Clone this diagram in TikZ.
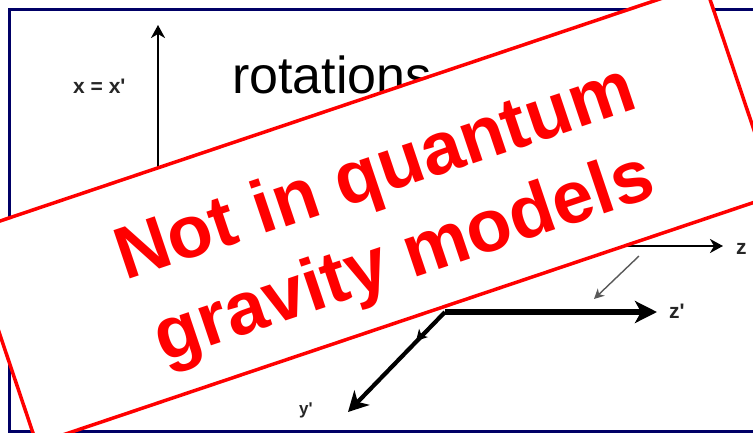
\documentclass[tikz,border=0pt]{standalone}
\usepackage{fontspec}
\setmainfont{Liberation Sans}
\usetikzlibrary{arrows.meta}
\definecolor{framenavy}{RGB}{0,0,102}
\definecolor{stampred}{RGB}{255,0,0}
\begin{document}
\begin{tikzpicture}[x=1pt,y=1pt,
  axisline/.style={line width=2.6pt,-{Stealth[length=13pt,width=14pt,inset=4pt]}},
  bigaxis/.style={line width=5.5pt,-{Stealth[length=22pt,width=22pt,inset=6pt]}},
  midaxis/.style={line width=4.2pt,-{Stealth[length=20pt,width=21pt,inset=6pt]}},
  lbl/.style={inner sep=0pt,text=black!85,font=\fontsize{21}{24}\selectfont\bfseries},
  stamptext/.style={inner sep=0pt,transform shape,text=stampred,font=\fontsize{74}{89}\selectfont\bfseries}]
\useasboundingbox (0,0) rectangle (753,-432);
\clip (0,0) rectangle (753,-432);
\fill[white] (0,0) rectangle (753,-432);
% frame
\draw[framenavy,line width=3pt] (9,-9) rectangle (780,-431);
% title
\node[anchor=base west,inner sep=0pt,font=\fontsize{52}{60}\selectfont] (title) at (232,-93) {rotations};
% axes
\coordinate (O) at (158,-246);
\coordinate (xtip) at (158,-25);
\coordinate (ztip) at (723,-246);
\coordinate (Op) at (445,-312);
\coordinate (zptip) at (657,-312);
\coordinate (yptip) at (348,-412);
\coordinate (barbstart) at (430,-326);
\coordinate (barbtip) at (416,-341);
\coordinate (rotstart) at (639,-256);
\coordinate (rottip) at (594,-299);
\draw[axisline] (O) -- (xtip);
\draw[axisline] (O) -- (ztip);
\draw[bigaxis] (Op) -- (zptip);
\draw[midaxis] (Op) -- (yptip);
\draw[line width=1.3pt,-{Stealth[length=11pt,width=12pt,inset=3pt]}] (barbstart) -- (barbtip);
\draw[black!65,line width=1.4pt,-{Stealth[length=10pt,width=10pt,inset=3pt]}] (rotstart) -- (rottip);
% labels
\node[lbl,anchor=base west] (xlab) at (73,-93) {x = x\textquotesingle};
\node[lbl,anchor=base west] (zlab) at (736,-254) {z};
\node[lbl,anchor=base west] (zplab) at (669,-318) {z\textquotesingle};
\node[lbl,anchor=base west,font=\fontsize{17}{20}\selectfont\bfseries] (yplab) at (299,-414) {y\textquotesingle};
% stamp
\begin{scope}[shift={(370.7,-213.8)},rotate=18.6]
  \draw[stampred,line width=3.5pt,fill=white] (-390,-111.4) rectangle (390,111.4);
  \node[stamptext,anchor=base] (line1) at (17.3,14.8) {Not in quantum};
  \node[stamptext,anchor=base] (line2) at (17.2,-74.5) {gravity models};
\end{scope}
\end{tikzpicture}
\end{document}
